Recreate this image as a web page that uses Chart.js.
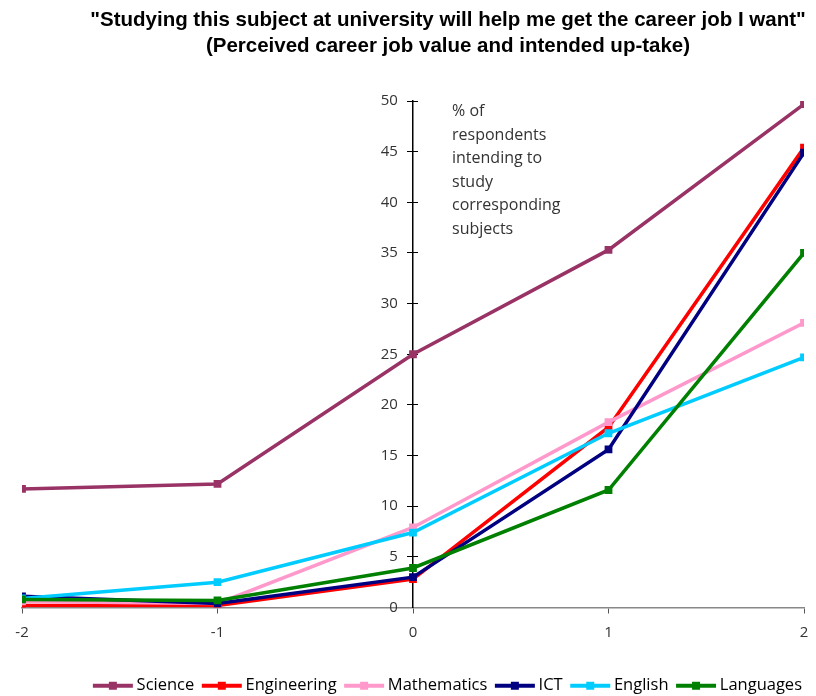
<!DOCTYPE html>
<html>
<head>
<meta charset="utf-8">
<script src="https://cdn.jsdelivr.net/npm/chart.js@4/dist/chart.umd.min.js"></script>
<style>
  html, body { margin: 0; padding: 0; background: #fff; }
  .wrap { position: relative; width: 816px; height: 696px; }
  .title {
    position: absolute; left: 80px; right: 0; top: 6px;
    text-align: center; font: bold 20.5px "Liberation Sans", Arial, sans-serif;
    line-height: 26px; color: #000;
  }
  .note {
    position: absolute; left: 452px; top: 99px;
    font: 16px "Open Sans", sans-serif; line-height: 23.6px; color: #333;
  }
</style>
</head>
<body>
<div class="wrap">
  <canvas id="chart" width="816" height="696"></canvas>
  <div class="title">"Studying this subject at university will help me get the career job I want"<br>(Perceived career job value and intended up-take)</div>
  <div class="note">% of<br>respondents<br>intending to<br>study<br>corresponding<br>subjects</div>
</div>
<script>
const xValues = [-2, -1, 0, 1, 2];
const yTicks = [0, 5, 10, 15, 20, 25, 30, 35, 40, 45, 50];

const science = [11.7, 12.2, 25.0, 35.3, 49.7];
const engineering = [0.2, 0.2, 2.8, 17.8, 45.4];
const mathematics = [0.6, 0.4, 7.9, 18.3, 28.1];
const ict = [1.1, 0.4, 3.0, 15.6, 44.9];
const english = [0.9, 2.5, 7.4, 17.2, 24.7];
const languages = [0.8, 0.7, 3.9, 11.6, 35.0];

const series = [
  { label: 'Science', values: science, color: '#993366' },
  { label: 'Engineering', values: engineering, color: '#ff0000' },
  { label: 'Mathematics', values: mathematics, color: '#ff99cc' },
  { label: 'ICT', values: ict, color: '#000080' },
  { label: 'English', values: english, color: '#00ccff' },
  { label: 'Languages', values: languages, color: '#008000' },
];

// line + square swatch for the legend, drawn toward the right of its canvas
function legendIcon(color) {
  const c = document.createElement('canvas');
  c.width = 52; c.height = 10;
  const g = c.getContext('2d');
  g.fillStyle = color;
  g.fillRect(11, 3, 40, 4);
  g.fillRect(27, 1, 8, 8);
  return c;
}

const datasets = series.map((s, i) => ({
  label: s.label,
  data: s.values.map((v, j) => ({ x: xValues[j], y: v })),
  borderColor: s.color,
  backgroundColor: s.color,
  borderWidth: 3.5,
  pointStyle: 'rect',
  pointRadius: 5.5,
  pointBorderWidth: 0,
  pointBackgroundColor: s.color,
  tension: 0,
  order: series.length - i, // later series on top
  legendIcon: legendIcon(s.color),
}));

const tickFont = { family: '"Open Sans", sans-serif', size: 15 };
const fixedTicks = (scale) => { scale.ticks = yTicks.map(v => ({ value: v })); };

new Chart(document.getElementById('chart'), {
  type: 'line',
  data: { datasets },
  options: {
    responsive: false,
    animation: false,
    layout: { padding: { top: 101, left: 22, right: 12, bottom: -8 } },
    plugins: {
      tooltip: { enabled: false },
      legend: {
        position: 'bottom',
        align: 'end',
        labels: {
          usePointStyle: true,
          pointStyleWidth: 41,
          padding: 2,
          color: '#000',
          font: { family: '"Open Sans", sans-serif', size: 16.5 },
          generateLabels(chart) {
            return chart.data.datasets.map((d, i) => ({
              text: d.label,
              datasetIndex: i,
              pointStyle: d.legendIcon,
              fillStyle: d.borderColor,
              strokeStyle: d.borderColor,
              lineWidth: 0,
              hidden: false,
            }));
          },
        },
      },
    },
    scales: {
      x: {
        type: 'linear',
        min: -2,
        max: 2,
        grid: { drawOnChartArea: false, color: '#555', tickLength: 6 },
        border: { color: '#888', width: 1.5 },
        ticks: { stepSize: 1, color: '#333', padding: 10, font: tickFont },
        afterFit(scale) {
          scale.height += 24;
          // end labels may hang over the edges; the layout padding covers them
          scale.paddingLeft = 0;
          scale.paddingRight = 0;
        },
      },
      // axis line and left half of the tick marks
      y: {
        position: { x: 0 },
        min: 0,
        max: 50,
        afterBuildTicks: fixedTicks,
        grid: { drawOnChartArea: false, color: '#000', tickLength: 5 },
        border: { color: '#000', width: 1.5 },
        ticks: { display: false },
      },
      // right half of the tick marks
      yRight: {
        position: { x: 0 },
        min: 0,
        max: 50,
        afterBuildTicks: fixedTicks,
        grid: { drawOnChartArea: false, color: '#000', tickLength: -5 },
        border: { display: false },
        ticks: { display: false },
      },
      // tick labels, set just left of the axis
      yLabels: {
        position: { x: -0.077 },
        min: 0,
        max: 50,
        afterBuildTicks: fixedTicks,
        grid: { display: false },
        border: { display: false },
        ticks: { color: '#333', font: tickFont },
      },
    },
  },
});
</script>
</body>
</html>
